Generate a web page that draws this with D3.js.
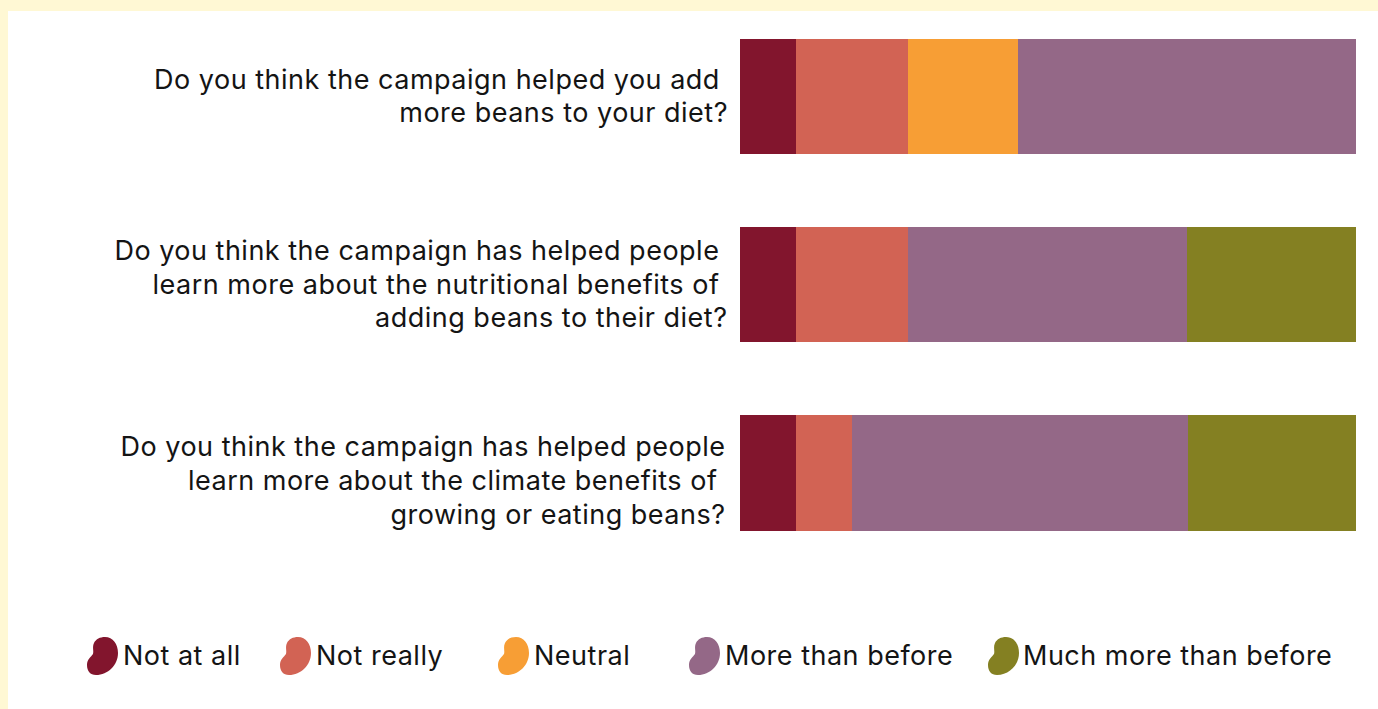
<!DOCTYPE html>
<html>
<head>
<meta charset="utf-8">
<script src="https://cdnjs.cloudflare.com/ajax/libs/d3/7.8.5/d3.min.js"></script>
<style>
  html, body { margin: 0; padding: 0; background: #fff8d4; overflow: hidden; }
  text { font-family: Inter, "Open Sans", sans-serif; fill: #141414; letter-spacing: 0.5px; }
</style>
</head>
<body>
<svg id="chart" width="1378" height="709"></svg>
<script>
// Survey answers, as a share of respondents per question
const responses = ["Not at all", "Not really", "Neutral", "More than before", "Much more than before"];
const colors = ["#82152d", "#d26354", "#f79e35", "#946887", "#848022"];
const questions = ["beans in diet", "nutritional benefits", "climate benefits"];
const questionLines = [
  ["Do you think the campaign helped you add\u00a0", "more beans to your diet?"],
  ["Do you think the campaign has helped people\u00a0", "learn more about the nutritional benefits of\u00a0", "adding beans to their diet?"],
  ["Do you think the campaign has helped people", "learn more about the climate benefits of\u00a0", "growing or eating beans?"]
];
const notAtAll = [9.1, 9.1, 9.1];
const notReally = [18.2, 18.2, 9.1];
const neutral = [17.9, 0, 0];
const moreThanBefore = [54.8, 45.3, 54.5];
const muchMoreThanBefore = [0, 27.4, 27.3];

const rows = questions.map((q, i) => ({
  question: q,
  "Not at all": notAtAll[i],
  "Not really": notReally[i],
  "Neutral": neutral[i],
  "More than before": moreThanBefore[i],
  "Much more than before": muchMoreThanBefore[i]
}));

const svg = d3.select("#chart");

// White card on the cream page background
svg.append("rect").attr("x", 8).attr("y", 11).attr("width", 1370).attr("height", 698).attr("fill", "#fff");

const x = d3.scaleLinear().domain([0, 100]).range([740, 1356]);
const y = d3.scaleBand().domain(questions).range([39, 530.5]).paddingInner(0.389);
const color = d3.scaleOrdinal().domain(responses).range(colors);

const stacked = d3.stack().keys(responses)(rows);

// Stacked bars
svg.append("g").attr("shape-rendering", "crispEdges")
  .selectAll("g").data(stacked).join("g")
  .attr("fill", d => color(d.key))
  .selectAll("rect").data(d => d).join("rect")
  .attr("x", d => x(d[0]))
  .attr("y", d => y(d.data.question))
  .attr("width", d => x(d[1]) - x(d[0]))
  .attr("height", y.bandwidth());

// Question labels, right aligned next to their bars
const fontSize = 27;
const lineGap = 33.7;
const labelRight = d3.scaleOrdinal().domain(questions).range([728, 727.5, 725.5]);
const labelShift = d3.scaleOrdinal().domain(questions).range([0, 0, 8]);
const labels = svg.append("g").selectAll("text").data(questions).join("text")
  .attr("text-anchor", "end")
  .attr("font-size", fontSize);
labels.each(function (q, i) {
  const lines = questionLines[i];
  const mid = y(q) + y.bandwidth() / 2 + labelShift(q);
  const first = mid + 9 - (lines.length - 1) * lineGap / 2;
  d3.select(this).selectAll("tspan").data(lines).join("tspan")
    .attr("x", labelRight(q))
    .attr("y", (d, k) => first + k * lineGap)
    .text(d => d);
});

// Legend: a bean glyph followed by each answer
const beanPath = d3.path();
beanPath.moveTo(18, 0);
beanPath.bezierCurveTo(26, 0, 31, 7, 31, 16);
beanPath.bezierCurveTo(31, 28, 21, 38, 9, 38);
beanPath.bezierCurveTo(3, 38, 0, 34, 0, 28);
beanPath.bezierCurveTo(0, 22, 4, 20, 6, 17);
beanPath.bezierCurveTo(7, 14, 5, 10, 7, 6);
beanPath.bezierCurveTo(9, 2, 13, 0, 18, 0);
beanPath.closePath();

const legendX = d3.scaleOrdinal().domain(responses).range([87, 280, 498, 689, 988]);
const legendTextOffset = d3.scaleOrdinal().domain(responses).range([36, 36, 36, 36, 35]);
const legend = svg.append("g").selectAll("g").data(responses).join("g")
  .attr("transform", d => `translate(${legendX(d)},637)`);
legend.append("path").attr("d", beanPath.toString()).attr("fill", d => color(d));
legend.append("text")
  .attr("x", d => legendTextOffset(d))
  .attr("y", 28)
  .attr("font-size", fontSize)
  .text(d => d);
</script>
</body>
</html>
